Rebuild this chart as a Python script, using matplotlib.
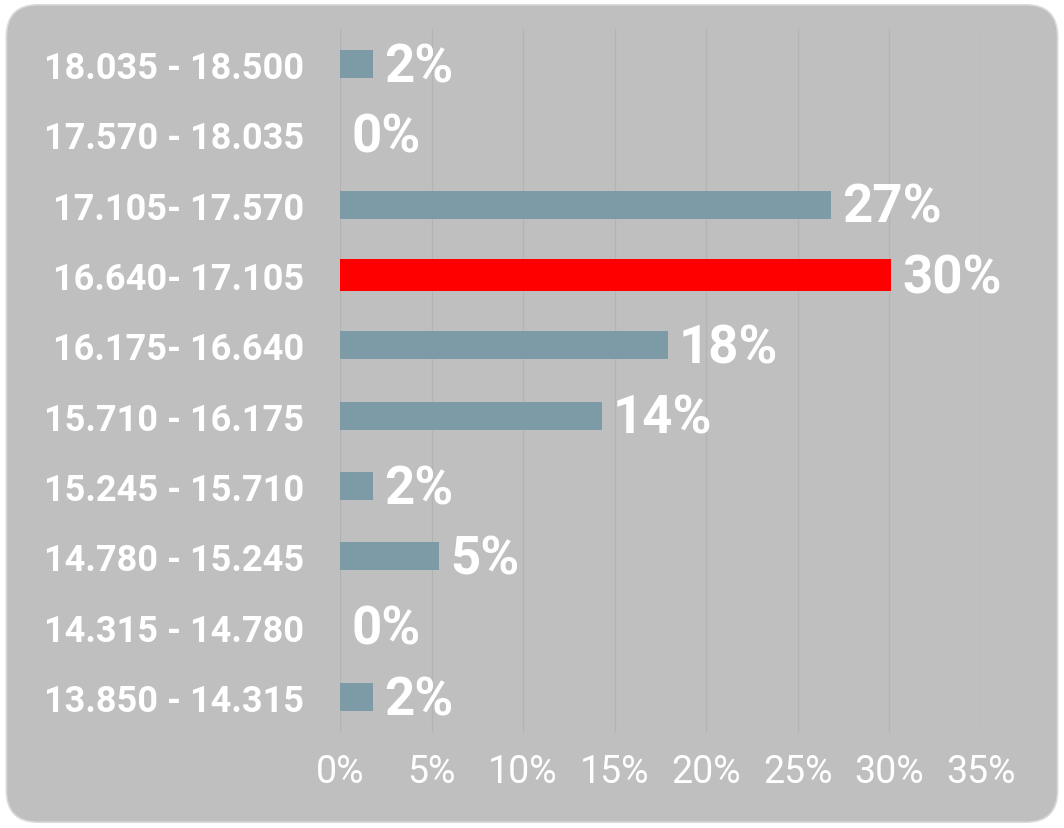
import matplotlib.pyplot as plt
from matplotlib.patches import FancyBboxPatch

# --- Datos ---
ranges = ["13.850 - 14.315", "14.315 - 14.780", "14.780 - 15.245", "15.245 - 15.710",
          "15.710 - 16.175", "16.175- 16.640", "16.640- 17.105", "17.105- 17.570",
          "17.570 - 18.035", "18.035 - 18.500"]
shares = [1.8, 0.0, 5.4, 1.8, 14.3, 17.9, 30.1, 26.8, 0.0, 1.8]
highlight = "16.640- 17.105"
x_ticks = [0, 5, 10, 15, 20, 25, 30, 35]

BG = "#BFBFBF"
BAR = "#7D9BA6"
RED = "#FF0000"

fig = plt.figure(figsize=(10.64, 8.29), dpi=100, facecolor="white")

# fondo gris redondeado
bg = FancyBboxPatch((0.006, 0.007), 0.988, 0.986, boxstyle="round,pad=0,rounding_size=0.03",
                    transform=fig.transFigure, facecolor=BG, edgecolor="#D9D9D9", lw=1.2,
                    mutation_aspect=1064 / 829, zorder=-10)
fig.patches.append(bg)

ax = fig.add_axes([0.3195, 0.1158, 0.6025, 0.848])
ax.set_zorder(1)
ax.set_facecolor("none")

colors = [RED if r == highlight else BAR for r in ranges]
heights = [0.45 if r == highlight else 0.40 for r in ranges]
bars = ax.barh(range(len(ranges)), shares, height=heights, color=colors, zorder=3)

for i, v in enumerate(shares):
    ax.annotate(f"{round(v):d}%", xy=(v, i), xytext=(8, 2), textcoords="offset points",
                ha="left", va="center_baseline", fontsize=38, fontweight="bold",
                family="Roboto", color="white", zorder=4)

ax.set_xlim(0, 35)
ax.set_ylim(-0.5, len(ranges) - 0.5)
ax.set_xticks(x_ticks)
ax.set_xticklabels([f"{t}%" for t in x_ticks], fontsize=27, color="white",
                   family=["Liberation Sans Narrow", "Roboto"])
ax.set_yticks(range(len(ranges)))
ax.set_yticklabels(ranges, fontsize=26, fontweight="bold", color="white", family="Roboto")
ax.tick_params(axis="both", length=0)
ax.tick_params(axis="x", pad=15)
ax.tick_params(axis="y", pad=26)

ax.grid(axis="x", color="#B3B3B3", lw=0.9, zorder=0)
ax.grid(axis="y", visible=False)
for s in ax.spines.values():
    s.set_visible(False)

plt.savefig("out.png", dpi=100, facecolor="white")
